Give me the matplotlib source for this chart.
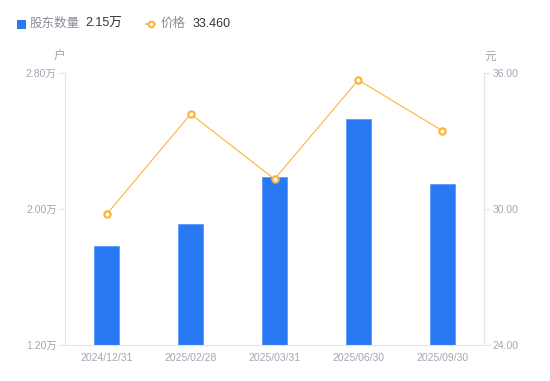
import matplotlib
matplotlib.use("Agg")
import matplotlib.pyplot as plt
from matplotlib.lines import Line2D
from matplotlib.patches import Rectangle
import numpy as np

plt.rcParams['font.family'] = ['Liberation Sans', 'Noto Sans CJK SC', 'DejaVu Sans']

# data
dates = ['2024/12/31', '2025/02/28', '2025/03/31', '2025/06/30', '2025/09/30']
holders = [1.78, 1.91, 2.19, 2.53, 2.15]      # 万户
price = [29.78, 34.19, 31.32, 35.69, 33.46]   # 元
left_ticks = [1.20, 2.00, 2.80]
right_ticks = [24.0, 30.0, 36.0]

blue = '#2979F5'
orange = '#FBB43C'
gray_txt = '#A3A5B3'
axis_col = '#E3E4E8'

fig = plt.figure(figsize=[5.5, 3.81], dpi=100, facecolor='white')
ax = fig.add_axes([65/550, 1-345/381, (484-65)/550, (345-73)/381])
ax2 = ax.twinx()

x = np.arange(len(dates))
ax.bar(x, [h - left_ticks[0] for h in holders], bottom=left_ticks[0], width=0.3,
       color=blue, edgecolor='#5C9BFA', linewidth=0.6, zorder=2)
ax.set_xlim(-0.5, len(dates) - 0.5)
ax.set_ylim(left_ticks[0], left_ticks[-1])
ax.set_yticks(left_ticks)
ax.set_yticklabels(['%.2f万' % v for v in left_ticks])
ax.set_xticks(x)
ax.set_xticklabels(dates)

ax2.plot(x, price, color=orange, linewidth=0.8, marker='o', markersize=4.5,
         markerfacecolor='white', markeredgecolor=orange, markeredgewidth=1.6, zorder=3)
ax2.set_ylim(right_ticks[0], right_ticks[-1])
ax2.set_yticks(right_ticks)
ax2.set_yticklabels(['%.2f' % v for v in right_ticks])

for a in (ax, ax2):
    for s in a.spines.values():
        s.set_visible(False)
    a.tick_params(colors=axis_col, labelcolor=gray_txt, labelsize=7.5, length=4, width=0.8)
ax.spines['left'].set_visible(True)
ax.spines['left'].set_color(axis_col)
ax.spines['bottom'].set_visible(True)
ax.spines['bottom'].set_color(axis_col)
ax2.spines['right'].set_visible(True)
ax2.spines['right'].set_color(axis_col)
ax.tick_params(axis='x', length=0, pad=6)
ax.tick_params(axis='y', pad=2)
ax2.tick_params(axis='y', pad=2)

# unit labels
fig.text(60/550, 1-57/381, '户', color=gray_txt, fontsize=8.5, ha='center', va='center')
fig.text(490/550, 1-57/381, '元', color=gray_txt, fontsize=8.5, ha='center', va='center')

# legend
fig.patches.append(Rectangle((17/550, 1-29/381), 9/550, 9/381, transform=fig.transFigure,
                             facecolor=blue, edgecolor='none'))
fig.text(30/550, 1-24/381, '股东数量', color='#8A8D99', fontsize=9, va='center')
fig.text(85/550, 1-24/381, '%.2f万' % holders[-1], color='#333333', fontsize=9, va='center')
fig.add_artist(Line2D([146/550, 155/550], [1-24/381, 1-24/381], transform=fig.transFigure,
                      color=orange, linewidth=1.2))
fig.add_artist(Line2D([150.5/550], [1-24/381], transform=fig.transFigure, marker='o',
                      markersize=4, markerfacecolor='white', markeredgecolor=orange,
                      markeredgewidth=1.5, linestyle='none'))
fig.text(161/550, 1-24/381, '价格', color='#8A8D99', fontsize=9, va='center')
fig.text(193/550, 1-24/381, '%.3f' % price[-1], color='#333333', fontsize=9, va='center')

fig.savefig('out.png', dpi=100, facecolor='white')
